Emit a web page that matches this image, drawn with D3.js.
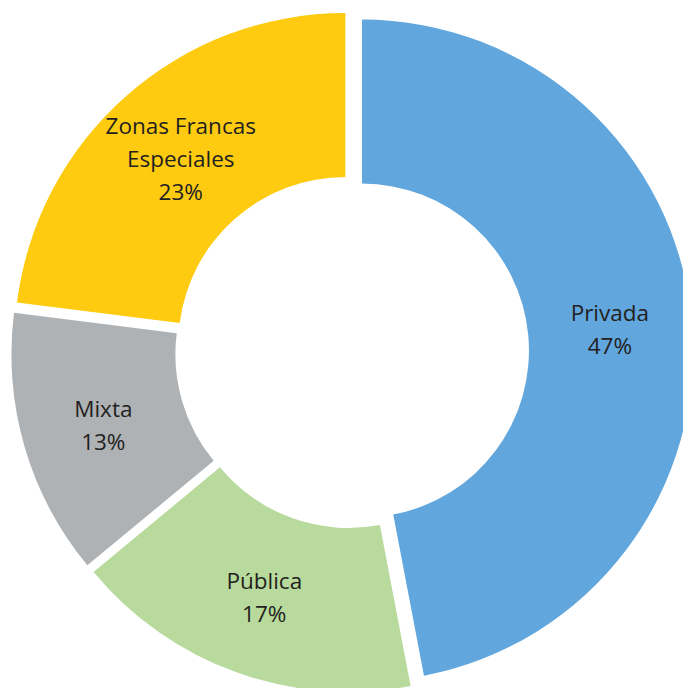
<!DOCTYPE html>
<html>
<head>
<meta charset="utf-8">
<script src="https://cdn.jsdelivr.net/npm/d3@7"></script>
<style>
    html, body { margin: 0; padding: 0; background: #ffffff; }
    svg { display: block; }
    text { font-family: "Open Sans", Lato, sans-serif; fill: #231f20; }
</style>
</head>
<body>
<div id="chart"><svg></svg></div>
<script>
let categories = ["Privada", "Pública", "Mixta", "Zonas Francas Especiales"];
let labelLines = [["Privada"], ["Pública"], ["Mixta"], ["Zonas Francas", "Especiales"]];
let shares = [47, 17, 13, 23];
let colors = ["#61a6dc", "#b9da9d", "#afb2b5", "#fecb10"];

let Donut = function() {

    this.draw = function (elementSelector, params) {
        params = params || {};
        let w = params.w || 683,
            h = params.h || 688,
            cx = params.cx || 352,
            cy = params.cy || 351.5,
            outer = params.outer || 331,
            inner = params.inner || 167,
            explode = params.explode || 10,
            fontSize = params.fontSize || 22.5,
            lineHeight = params.lineHeight || 33;

        let svg = d3.select(elementSelector).select("svg")
            .attr("width", w)
            .attr("height", h);

        let data = categories.map(function (c, i) {
            return {name: c, lines: labelLines[i], value: shares[i], color: colors[i]};
        });

        let pie = d3.pie()
            .value(function (d) { return d.value; })
            .sort(null);

        let arc = d3.arc()
            .innerRadius(inner)
            .outerRadius(outer);

        let labelArc = d3.arc()
            .innerRadius((inner + outer) / 2 + explode)
            .outerRadius((inner + outer) / 2 + explode);

        let g = svg.append("g")
            .attr("transform", "translate(" + cx + "," + cy + ")");

        let slices = g.selectAll("g.slice")
            .data(pie(data))
            .enter()
            .append("g")
            .attr("class", "slice");

        slices.append("path")
            .attr("d", arc)
            .attr("fill", function (d) { return d.data.color; })
            .attr("transform", function (d) {
                let mid = (d.startAngle + d.endAngle) / 2;
                return "translate(" + (explode * Math.sin(mid)) + "," + (-explode * Math.cos(mid)) + ")";
            });

        // labels sit in the middle of the ring, moved out like the slice
        slices.each(function (d) {
            let pos = labelArc.centroid(d);
            let lines = d.data.lines.concat([d.data.value + "%"]);
            let top = pos[1] + 2 - (lines.length - 1) * lineHeight / 2;
            let text = d3.select(this).append("text")
                .attr("text-anchor", "middle")
                .attr("font-size", fontSize);
            lines.forEach(function (l, k) {
                text.append("tspan")
                    .attr("x", pos[0])
                    .attr("y", top + k * lineHeight)
                    .attr("dy", "0.35em")
                    .text(l);
            });
        });
    };
};

new Donut().draw("#chart");
</script>
</body>
</html>
